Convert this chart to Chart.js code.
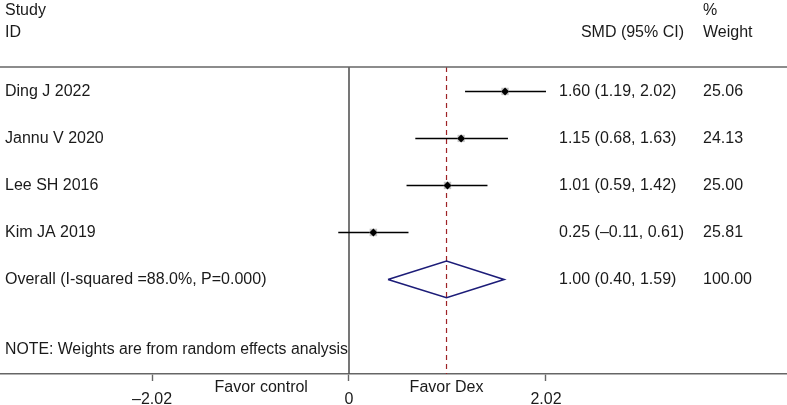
<!DOCTYPE html>
<html>
<head>
<meta charset="utf-8">
<script src="https://cdn.jsdelivr.net/npm/chart.js@4"></script>
<style>
  body { margin: 0; background: #fff; }
  #wrap { width: 787px; height: 405px; }
</style>
</head>
<body>
<div id="wrap"><canvas id="myChart" width="787" height="405"></canvas></div>
<script>
// study rows
const studies = ['Ding J 2022', 'Jannu V 2020', 'Lee SH 2016', 'Kim JA 2019'];
const smd = [1.60, 1.15, 1.01, 0.25];
const lower = [1.19, 0.68, 0.59, -0.11];
const upper = [2.02, 1.63, 1.42, 0.61];
const weights = [25.06, 24.13, 25.00, 25.81];

// pooled estimate
const overallLabel = 'Overall (I-squared =88.0%, P=0.000)';
const overallSmd = 1.00;
const overallLower = 0.40;
const overallUpper = 1.59;
const overallWeight = 100.00;

const noteText = 'NOTE: Weights are from random effects analysis';

// x axis
const tickValues = [-2.02, 0, 2.02];
const tickLabels = ['\u20132.02', '0', '2.02'];
const favorLabels = ['Favor control', 'Favor Dex'];
const favorAt = [-0.9, 1.0];

const FONT = '16px "Liberation Sans", Arial, Helvetica, sans-serif';
const TEXT = '#1a1a1a';
const GREY = '#666';
const YMIN = -0.52;
const YMAX = YMIN + 307 / 47;

function fmt(v) {
    let s = Math.abs(v).toFixed(2);
    return v < 0 ? '\u2013' + s : s;
}
function ciText(m, lo, hi) {
    return fmt(m) + ' (' + fmt(lo) + ', ' + fmt(hi) + ')';
}

function createDatasets() {
    let sets = [];
    // estimate markers on top
    sets.push({
        data: smd.map((v, i) => ({ x: v, y: i })),
        pointStyle: 'rectRot',
        pointRadius: 4,
        backgroundColor: '#000',
        borderWidth: 0,
        order: 0
    });
    sets.push({
        data: smd.map((v, i) => ({ x: v, y: i })),
        pointStyle: 'rect',
        pointRadius: weights.map(w => 5.2 * Math.sqrt(w / 25)),
        backgroundColor: '#c4c4c4',
        borderWidth: 0,
        order: 1
    });
    // confidence intervals
    studies.forEach((s, i) => {
        sets.push({
            data: [{ x: lower[i], y: i }, { x: upper[i], y: i }],
            showLine: true,
            borderColor: '#000',
            borderWidth: 1.6,
            pointRadius: 0,
            order: 2
        });
    });
    // pooled diamond
    const r = studies.length;
    sets.push({
        data: [
            { x: overallLower, y: r },
            { x: overallSmd, y: r - 0.39 },
            { x: overallUpper, y: r },
            { x: overallSmd, y: r + 0.39 },
            { x: overallLower, y: r }
        ],
        showLine: true,
        borderColor: '#1c1c78',
        borderWidth: 1.6,
        pointRadius: 0,
        order: 3
    });
    // dashed line at pooled estimate
    sets.push({
        data: [{ x: overallSmd, y: YMIN }, { x: overallSmd, y: YMAX }],
        showLine: true,
        borderColor: '#9e2226',
        borderWidth: 1.2,
        borderDash: [5, 4],
        pointRadius: 0,
        order: 4
    });
    // line of no effect
    sets.push({
        data: [{ x: 0, y: YMIN }, { x: 0, y: YMAX }],
        showLine: true,
        borderColor: '#555',
        borderWidth: 1.6,
        pointRadius: 0,
        order: 5
    });
    return sets;
}

const textPlugin = {
    id: 'forestText',
    afterDraw(chart) {
        const ctx = chart.ctx;
        const xs = chart.scales.x;
        const ys = chart.scales.y;
        const area = chart.chartArea;
        ctx.save();
        // top rule
        ctx.strokeStyle = GREY;
        ctx.lineWidth = 1.6;
        ctx.beginPath();
        ctx.moveTo(0, area.top);
        ctx.lineTo(chart.width, area.top);
        ctx.stroke();

        ctx.font = FONT;
        ctx.fillStyle = TEXT;
        ctx.textBaseline = 'middle';
        ctx.textAlign = 'left';
        // headers
        ctx.fillText('Study', 5, 11);
        ctx.fillText('ID', 5, 33);
        ctx.fillText('%', 703, 11);
        ctx.fillText('Weight', 703, 33);
        ctx.textAlign = 'right';
        ctx.fillText('SMD (95% CI)', 684, 33);
        ctx.textAlign = 'left';

        studies.forEach((s, i) => {
            const y = ys.getPixelForValue(i) + 0.5;
            ctx.fillText(s, 5, y);
            ctx.fillText(ciText(smd[i], lower[i], upper[i]), 559, y);
            ctx.fillText(weights[i].toFixed(2), 703, y);
        });
        const yo = ys.getPixelForValue(studies.length) + 0.5;
        ctx.fillText(overallLabel, 5, yo);
        ctx.fillText(ciText(overallSmd, overallLower, overallUpper), 559, yo);
        ctx.fillText(overallWeight.toFixed(2), 703, yo);

        // note
        const yn = ys.getPixelForValue(studies.length + 1.5);
        ctx.fillText(noteText, 5, yn, xs.getPixelForValue(0) - 6);

        // favour labels
        ctx.textAlign = 'center';
        favorLabels.forEach((t, i) => {
            ctx.fillText(t, xs.getPixelForValue(favorAt[i]), 388);
        });
        ctx.restore();
    }
};

function createChart() {
    const ctx = document.getElementById('myChart');
    new Chart(ctx, {
        type: 'scatter',
        data: { datasets: createDatasets() },
        options: {
            responsive: false,
            animation: false,
            layout: { autoPadding: false, padding: { top: 67, left: 0, right: 0, bottom: 0 } },
            plugins: {
                legend: { display: false },
                tooltip: { enabled: false }
            },
            scales: {
                x: {
                    type: 'linear',
                    min: -349 / 97.52,
                    max: 438 / 97.52,
                    afterBuildTicks: (axis) => {
                        axis.ticks = tickValues.map(v => ({ value: v }));
                    },
                    afterFit: (axis) => { axis.height = 31; },
                    ticks: {
                        callback: (v) => tickLabels[tickValues.indexOf(v)],
                        font: { family: '"Liberation Sans", Arial, sans-serif', size: 16 },
                        color: TEXT,
                        padding: 9,
                        maxRotation: 0,
                        autoSkip: false
                    },
                    grid: {
                        drawOnChartArea: false,
                        drawTicks: true,
                        tickLength: 7,
                        tickColor: GREY,
                        tickWidth: 1.4
                    },
                    border: { display: true, color: GREY, width: 1.6 }
                },
                y: {
                    type: 'linear',
                    reverse: true,
                    min: YMIN,
                    max: YMAX,
                    display: false
                }
            }
        },
        plugins: [textPlugin]
    });
}

createChart();
</script>
</body>
</html>
